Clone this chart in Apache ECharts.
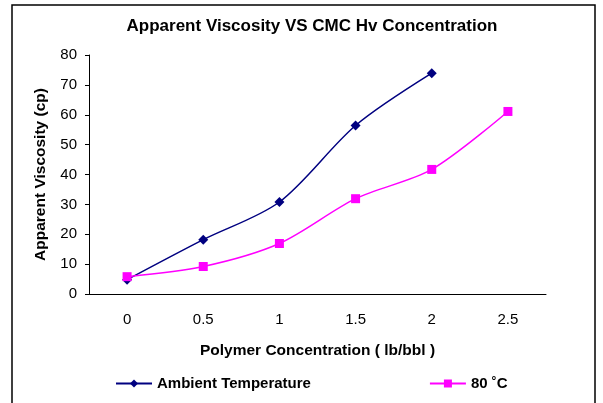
<!DOCTYPE html>
<html>
<head>
<meta charset="utf-8">
<script src="https://cdn.jsdelivr.net/npm/echarts@6/dist/echarts.min.js"></script>
<style>
  html, body { margin: 0; padding: 0; background: #fff; }
  #chart { width: 603px; height: 403px; }
</style>
</head>
<body>
<div id="chart"></div>
<script>
var concentrations = ['0', '0.5', '1', '1.5', '2', '2.5'];
var ambientValues = [4.8, 18.2, 30.8, 56.4, 73.9];
var hotValues = [5.8, 9.2, 16.9, 31.9, 41.7, 61.1];
var yTicks = { min: 0, max: 80, interval: 10 };

var myChart = echarts.init(document.getElementById('chart'));

var font = 'Arial, "Liberation Sans", sans-serif';

var option = {
    backgroundColor: '#fff',
    animation: false,
    title: {
        text: 'Apparent Viscosity VS CMC Hv Concentration',
        left: 307,
        textAlign: 'center',
        top: 13,
        textStyle: {
            fontFamily: font,
            fontSize: 17,
            fontWeight: 'bold',
            color: '#000'
        }
    },
    graphic: [{
        type: 'rect',
        shape: { x: 12, y: 5, width: 583, height: 420 },
        style: { fill: 'none', stroke: '#000', lineWidth: 1.5 },
        silent: true
    }],
    legend: {
        left: 110,
        top: 371,
        itemGap: 118,
        itemWidth: 36,
        itemHeight: 10,
        textStyle: {
            fontFamily: font,
            fontSize: 15,
            fontWeight: 'bold',
            color: '#000'
        },
        data: ['Ambient Temperature', '80 ˚C']
    },
    grid: {
        left: 89,
        right: 57,
        top: 55,
        bottom: 109
    },
    xAxis: {
        type: 'category',
        data: concentrations,
        boundaryGap: true,
        name: 'Polymer Concentration ( lb/bbl )',
        nameLocation: 'middle',
        nameGap: 49,
        nameTextStyle: {
            fontFamily: font,
            fontSize: 15.5,
            fontWeight: 'bold',
            color: '#000'
        },
        axisLine: { lineStyle: { color: '#000', width: 1 } },
        axisTick: { length: 5, lineStyle: { color: '#000' } },
        axisLabel: {
            fontFamily: font,
            fontSize: 15,
            color: '#000',
            margin: 18
        },
        splitLine: { show: false }
    },
    yAxis: {
        type: 'value',
        min: yTicks.min,
        max: yTicks.max,
        interval: yTicks.interval,
        name: 'Apparent Viscosity (cp)',
        nameLocation: 'middle',
        nameGap: 40,
        nameTextStyle: {
            fontFamily: font,
            fontSize: 15.5,
            fontWeight: 'bold',
            color: '#000'
        },
        axisLine: { show: true, lineStyle: { color: '#000', width: 1 } },
        axisTick: { show: true, length: 4, lineStyle: { color: '#000' } },
        axisLabel: {
            fontFamily: font,
            fontSize: 15,
            color: '#000',
            margin: 12
        },
        splitLine: { show: false }
    },
    series: [
        {
            name: 'Ambient Temperature',
            type: 'line',
            smooth: 0.3,
            data: ambientValues,
            symbol: 'diamond',
            symbolSize: 10,
            lineStyle: { color: '#000080', width: 1.5 },
            itemStyle: { color: '#000080' }
        },
        {
            name: '80 ˚C',
            type: 'line',
            smooth: 0.3,
            data: hotValues,
            symbol: 'rect',
            symbolSize: 9,
            lineStyle: { color: '#ff00ff', width: 1.5 },
            itemStyle: { color: '#ff00ff' }
        }
    ]
};

myChart.setOption(option);
</script>
</body>
</html>
